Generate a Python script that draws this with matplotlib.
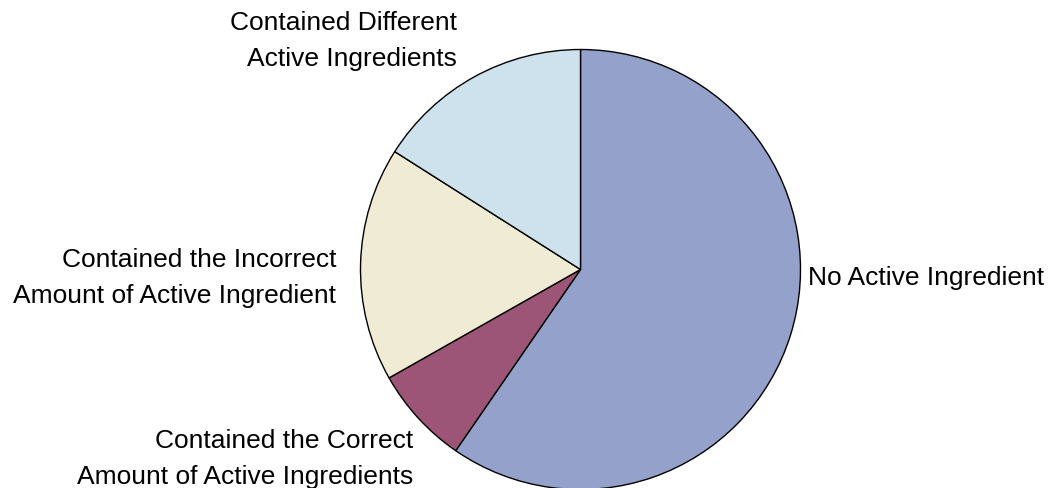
import matplotlib.pyplot as plt

# pie data (percent)
labels = ['No Active Ingredient',
          'Contained the Correct\nAmount of Active Ingredients',
          'Contained the Incorrect\nAmount of Active Ingredient',
          'Contained Different\nActive Ingredients']
values = [59.6, 7.2, 17.2, 16.0]
colors = ['#93A1CB', '#9D5577', '#F0EBD4', '#CDE2EC']

plt.rcParams['font.family'] = ['Liberation Sans', 'DejaVu Sans']

W, H = 1050, 489
fig = plt.figure(figsize=(W / 100, H / 100), dpi=100)
cx, cy, r = 580.5, 270.5, 220  # pie centre / radius in pixels
ax = fig.add_axes([(cx - r) / W, (H - cy - r) / H, 2 * r / W, 2 * r / H])

ax.pie(values, colors=colors, startangle=90, counterclock=False, radius=1,
       wedgeprops=dict(edgecolor='black', linewidth=1.0))
ax.set_xlim(-1, 1)
ax.set_ylim(-1, 1)
ax.set_aspect('equal')
ax.axis('off')


def px(x, y):
    # pixel position -> data coords of the pie axes
    return (x - cx) / r, (cy - y) / r


# label anchors in pixels (x, y, horizontal alignment)
anchors = [(808, 278, 'left'), (413, 459, 'right'),
           (336, 278, 'right'), (457, 41, 'right')]

for lab, (x, y, ha) in zip(labels, anchors):
    tx, ty = px(x, y)
    ax.text(tx, ty, lab, ha=ha, va='center', multialignment=ha,
            fontsize=19, linespacing=1.62, clip_on=False)

fig.savefig('out.png', dpi=100)
